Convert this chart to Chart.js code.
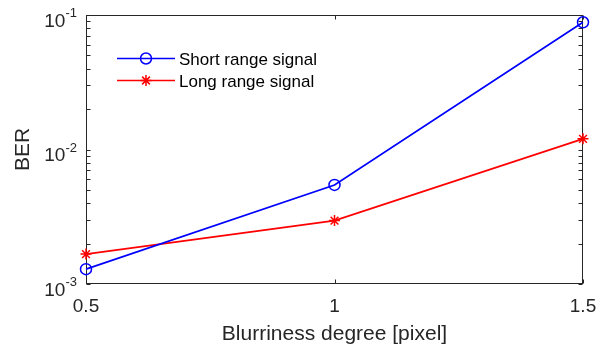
<!DOCTYPE html>
<html>
<head>
<meta charset="utf-8">
<title>BER vs blurriness</title>
<script src="https://cdn.jsdelivr.net/npm/chart.js@4/dist/chart.umd.min.js"></script>
<style>
  html, body { margin: 0; padding: 0; background: #fff; }
  canvas { display: block; }
</style>
</head>
<body>
<canvas id="ber-chart" width="609" height="349"></canvas>
<script>
// ---------------------------------------------------------------------------
// Data
// ---------------------------------------------------------------------------

const blurDegrees = [0.5, 1, 1.5];
const shortRangeBer = [1.29e-3, 5.45e-3, 8.83e-2];
const longRangeBer = [1.67e-3, 2.96e-3, 1.2e-2];

const seriesLabels = ['Short range signal', 'Long range signal'];
const xTickValues = [0.5, 1, 1.5];
const yDecadeExponents = [-3, -2, -1];

const AXIS_COLOR = '#262626';
const FONT_FAMILY = '"Liberation Sans", Arial, Helvetica, sans-serif';

Chart.defaults.font.family = FONT_FAMILY;

const toPoints = ys => blurDegrees.map((x, i) => ({ x, y: ys[i] }));

// ---------------------------------------------------------------------------
// Plugins: boxed axes with inward ticks, 10^n labels, inline legend
// ---------------------------------------------------------------------------

const boxAxes = {
  id: 'boxAxes',
  beforeDatasetsDraw(chart) {
    const { ctx, chartArea: a, scales } = chart;
    const L = Math.round(a.left) + 0.5;
    const R = Math.round(a.right) - 0.5;
    const T = Math.round(a.top) + 0.5;
    const B = Math.round(a.bottom) - 0.5;
    const tick = 4;

    ctx.save();
    ctx.strokeStyle = AXIS_COLOR;
    ctx.lineWidth = 1;
    ctx.strokeRect(L, T, R - L, B - T);

    ctx.beginPath();
    // x ticks, bottom and top
    for (const v of xTickValues) {
      const px = Math.round(scales.x.getPixelForValue(v)) + 0.5;
      ctx.moveTo(px, B); ctx.lineTo(px, B - tick);
      ctx.moveTo(px, T); ctx.lineTo(px, T + tick);
    }
    // y ticks (majors and minors), left and right
    const yVals = [];
    for (const e of yDecadeExponents) {
      yVals.push(Math.pow(10, e));
      if (e < yDecadeExponents[yDecadeExponents.length - 1]) {
        for (let m = 2; m <= 9; m++) yVals.push(m * Math.pow(10, e));
      }
    }
    for (const v of yVals) {
      const py = Math.round(scales.y.getPixelForValue(v)) + 0.5;
      ctx.moveTo(L, py); ctx.lineTo(L + tick, py);
      ctx.moveTo(R, py); ctx.lineTo(R - tick, py);
    }
    ctx.stroke();

    // 10^n tick labels
    ctx.fillStyle = AXIS_COLOR;
    ctx.textBaseline = 'alphabetic';
    const rightEdge = a.left - 9;
    for (const e of yDecadeExponents) {
      const py = scales.y.getPixelForValue(Math.pow(10, e));
      const exp = String(e);
      ctx.font = `13px ${FONT_FAMILY}`;
      const expW = ctx.measureText(exp).width;
      ctx.textAlign = 'left';
      ctx.fillText(exp, rightEdge - expW, py + 2);
      ctx.font = `19px ${FONT_FAMILY}`;
      ctx.textAlign = 'right';
      ctx.fillText('10', rightEdge - expW, py + 11.5);
    }
    ctx.restore();
  },
};

const inlineLegend = {
  id: 'inlineLegend',
  afterDraw(chart) {
    const { ctx } = chart;
    const x0 = 117, x1 = 175, textX = 179;
    const rows = [58.5, 80.5];

    ctx.save();
    chart.data.datasets.forEach((ds, i) => {
      const y = rows[i];
      ctx.strokeStyle = ds.borderColor;
      ctx.lineWidth = ds.borderWidth;
      ctx.beginPath();
      ctx.moveTo(x0, y);
      ctx.lineTo(x1, y);
      ctx.stroke();

      ctx.fillStyle = 'rgba(0,0,0,0)';
      ctx.lineWidth = ds.pointBorderWidth;
      Chart.helpers.drawPoint(ctx, {
        pointStyle: ds.pointStyle,
        radius: ds.pointRadius,
        rotation: 0,
        borderWidth: ds.pointBorderWidth,
      }, (x0 + x1) / 2, y);

      ctx.fillStyle = '#000';
      ctx.font = `17px ${FONT_FAMILY}`;
      ctx.textAlign = 'left';
      ctx.textBaseline = 'alphabetic';
      ctx.fillText(ds.label, textX, y + 6);
    });
    ctx.restore();
  },
};

// ---------------------------------------------------------------------------
// Chart
// ---------------------------------------------------------------------------

new Chart(document.getElementById('ber-chart'), {
  type: 'line',
  data: {
    datasets: [
      {
        label: seriesLabels[0],
        data: toPoints(shortRangeBer),
        borderColor: '#0000ff',
        borderWidth: 1.7,
        pointStyle: 'circle',
        pointRadius: 5.5,
        pointBorderWidth: 1.5,
        pointBorderColor: '#0000ff',
        pointBackgroundColor: 'rgba(0,0,0,0)',
        tension: 0,
        clip: false,
      },
      {
        label: seriesLabels[1],
        data: toPoints(longRangeBer),
        borderColor: '#ff0000',
        borderWidth: 1.7,
        pointStyle: 'star',
        pointRadius: 5.5,
        pointBorderWidth: 1.5,
        pointBorderColor: '#ff0000',
        pointBackgroundColor: 'rgba(0,0,0,0)',
        tension: 0,
        clip: false,
      },
    ],
  },
  options: {
    responsive: false,
    animation: false,
    devicePixelRatio: 1,
    layout: { padding: { top: 15, right: 26, left: 0, bottom: 0 } },
    plugins: {
      legend: { display: false },
      tooltip: { enabled: false },
    },
    scales: {
      x: {
        type: 'linear',
        min: 0.5,
        max: 1.5,
        afterBuildTicks: s => { s.ticks = xTickValues.map(value => ({ value })); },
        afterFit: s => { s.height = 65; },
        grid: { display: false, drawTicks: false },
        border: { display: false },
        ticks: {
          color: AXIS_COLOR,
          font: { size: 19 },
          padding: 11,
          maxRotation: 0,
          callback: v => String(v),
        },
        title: {
          display: true,
          text: 'Blurriness degree [pixel]',
          color: AXIS_COLOR,
          font: { size: 21 },
          padding: { top: 0, bottom: 2 },
        },
      },
      y: {
        type: 'logarithmic',
        min: 1e-3,
        max: 1e-1,
        afterFit: s => { s.width = 86; },
        grid: { display: false, drawTicks: false },
        border: { display: false },
        ticks: { display: false },
        title: {
          display: true,
          text: 'BER',
          color: AXIS_COLOR,
          font: { size: 21 },
          padding: { top: 11, bottom: 0 },
        },
      },
    },
  },
  plugins: [boxAxes, inlineLegend],
});
</script>
</body>
</html>
